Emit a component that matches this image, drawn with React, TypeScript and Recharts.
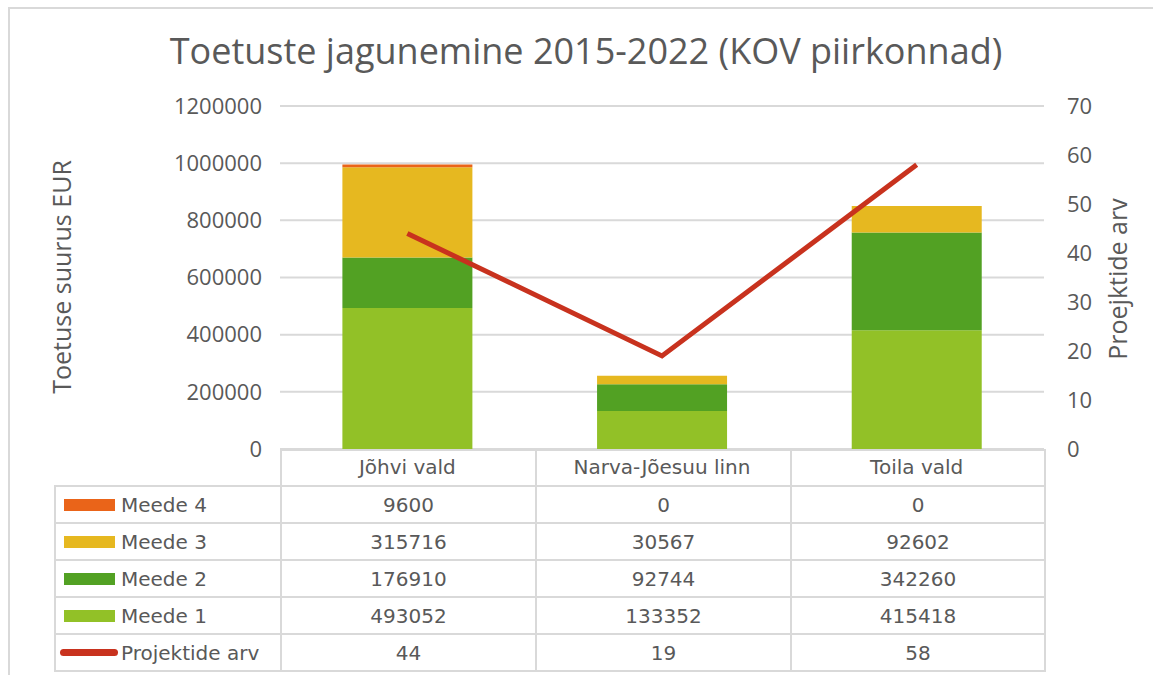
import {
  ComposedChart,
  Bar,
  Line,
  XAxis,
  YAxis,
  CartesianGrid,
} from "recharts";

const categories = ["Jõhvi vald", "Narva-Jõesuu linn", "Toila vald"];
const meede1 = [493052, 133352, 415418];
const meede2 = [176910, 92744, 342260];
const meede3 = [315716, 30567, 92602];
const meede4 = [9600, 0, 0];
const projektideArv = [44, 19, 58];

const eurTicks = [0, 200000, 400000, 600000, 800000, 1000000, 1200000];
const countTicks = [0, 10, 20, 30, 40, 50, 60, 70];

const TEXT = "#595959";
const GRID = "#d9d9d9";
const C1 = "#92c127";
const C2 = "#52a123";
const C3 = "#e6b820";
const C4 = "#ea6419";
const LINE = "#c8321e";

const data = categories.map((name, i) => ({
  name,
  m1: meede1[i],
  m2: meede2[i],
  m3: meede3[i],
  m4: meede4[i],
  arv: projektideArv[i],
}));

const tableRows = [
  { label: "Meede 4", color: C4, values: meede4, line: false },
  { label: "Meede 3", color: C3, values: meede3, line: false },
  { label: "Meede 2", color: C2, values: meede2, line: false },
  { label: "Meede 1", color: C1, values: meede1, line: false },
  { label: "Projektide arv", color: LINE, values: projektideArv, line: true },
];

const cell = {
  border: `2px solid ${GRID}`,
  padding: 0,
  textAlign: "center" as const,
  color: TEXT,
};

function DataTable() {
  return (
    <table
      style={{
        position: "absolute",
        left: 54,
        top: 449,
        width: 990,
        borderCollapse: "collapse",
        tableLayout: "fixed",
        fontFamily: "DejaVu Sans",
        fontSize: 20,
      }}
    >
      <colgroup>
        <col style={{ width: 226 }} />
        <col style={{ width: 255 }} />
        <col style={{ width: 255 }} />
        <col style={{ width: 254 }} />
      </colgroup>
      <tbody>
        <tr style={{ height: 36 }}>
          <td style={{ ...cell, borderTop: "none", borderLeft: "none" }} />
          {categories.map((c) => (
            <td key={c} style={cell} />
          ))}
        </tr>
        {tableRows.map((r) => (
          <tr key={r.label} style={{ height: 37 }}>
            <td style={{ ...cell, textAlign: "left" }}>
              <div style={{ display: "flex", alignItems: "center" }}>
                {r.line ? (
                  <span
                    style={{
                      display: "inline-block",
                      width: 58,
                      height: 7,
                      borderRadius: 4,
                      background: r.color,
                      marginLeft: 4,
                      marginRight: 3,
                    }}
                  />
                ) : (
                  <span
                    style={{
                      display: "inline-block",
                      width: 51,
                      height: 12,
                      background: r.color,
                      marginLeft: 8,
                      marginRight: 6,
                    }}
                  />
                )}
                <span>{r.label}</span>
              </div>
            </td>
            {r.values.map((v, i) => (
              <td key={i} style={cell}>
                {v}
              </td>
            ))}
          </tr>
        ))}
      </tbody>
    </table>
  );
}

export default function App() {
  return (
    <div
      style={{
        position: "absolute",
        left: 0,
        top: 0,
        width: 1153,
        height: 675,
        background: "#fff",
        overflow: "hidden",
        fontFamily: "Open Sans",
      }}
    >
      <div
        style={{
          position: "absolute",
          left: 8,
          top: 7,
          width: 1200,
          height: 700,
          border: `2px solid ${GRID}`,
        }}
      />
      <div
        style={{
          position: "absolute",
          left: 0,
          width: 1172,
          top: 26,
          textAlign: "center",
          fontSize: 36,
          color: TEXT,
          lineHeight: "49px",
        }}
      >
        Toetuste jagunemine 2015-2022 (KOV piirkonnad)
      </div>
      <div
        style={{
          position: "absolute",
          left: 61 - 150,
          top: 277 - 17,
          width: 300,
          height: 34,
          lineHeight: "34px",
          textAlign: "center",
          transform: "rotate(-90deg)",
          fontSize: 25,
          color: TEXT,
        }}
      >
        Toetuse suurus EUR
      </div>
      <div
        style={{
          position: "absolute",
          left: 1117 - 150,
          top: 279 - 17,
          width: 300,
          height: 34,
          lineHeight: "34px",
          textAlign: "center",
          transform: "rotate(-90deg)",
          fontSize: 25,
          color: TEXT,
        }}
      >
        Proejktide arv
      </div>
      <DataTable />
      <div style={{ position: "absolute", left: 0, top: 0 }}>
        <ComposedChart
          width={1153}
          height={675}
          data={data}
          margin={{ top: 106, right: 49, bottom: 190, left: 200 }}
          barCategoryGap="24.5%"
        >
          <CartesianGrid vertical={false} stroke={GRID} strokeWidth={2} yAxisId="eur" />
          <XAxis
            dataKey="name"
            height={36}
            axisLine={false}
            tickLine={false}
            tickMargin={5}
            tick={{ fill: TEXT, fontSize: 20, fontFamily: "DejaVu Sans" }}
          />
          <YAxis
            yAxisId="eur"
            width={80}
            domain={[0, 1200000]}
            ticks={eurTicks}
            axisLine={false}
            tickLine={false}
            tickMargin={12}
            interval={0}
            tick={{ fill: TEXT, fontSize: 22, fontFamily: "Open Sans" }}
          />
          <YAxis
            yAxisId="arv"
            orientation="right"
            width={60}
            domain={[0, 70]}
            ticks={countTicks}
            axisLine={false}
            tickLine={false}
            tickMargin={17}
            interval={0}
            tick={{ fill: TEXT, fontSize: 22, fontFamily: "Open Sans", textAnchor: "start" }}
          />
          <Bar yAxisId="eur" dataKey="m1" stackId="a" fill={C1} isAnimationActive={false} />
          <Bar yAxisId="eur" dataKey="m2" stackId="a" fill={C2} isAnimationActive={false} />
          <Bar yAxisId="eur" dataKey="m3" stackId="a" fill={C3} isAnimationActive={false} />
          <Bar yAxisId="eur" dataKey="m4" stackId="a" fill={C4} isAnimationActive={false} />
          <Line
            yAxisId="arv"
            dataKey="arv"
            stroke={LINE}
            strokeWidth={5}
            dot={false}
            activeDot={false}
            type="linear"
            isAnimationActive={false}
          />
        </ComposedChart>
      </div>
    </div>
  );
}
